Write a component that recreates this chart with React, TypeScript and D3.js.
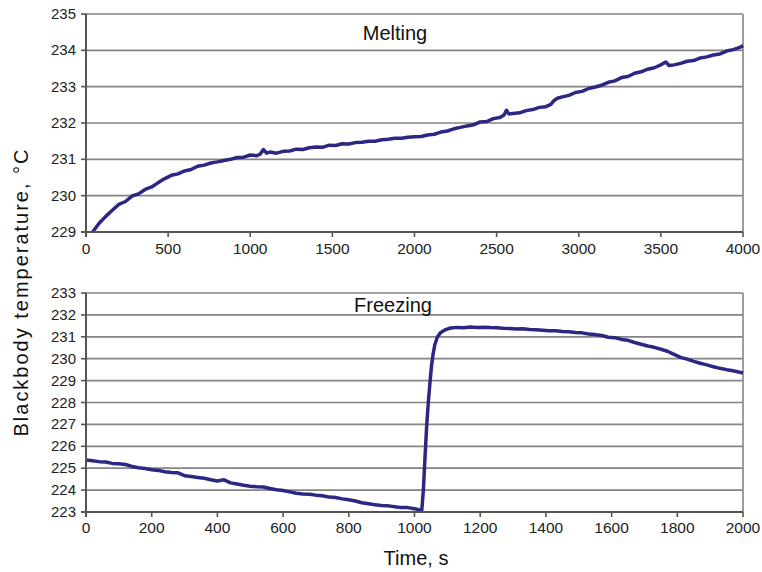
import React from "react";
import * as d3 from "d3";

const meltTime = [40, 80, 120, 160, 200, 240, 280, 320, 360, 400, 440, 480, 520, 560, 600, 640, 680, 720, 760, 800, 840, 880, 920, 960, 1000, 1040, 1060, 1080, 1100, 1120, 1160, 1200, 1240, 1280, 1320, 1360, 1400, 1440, 1480, 1520, 1560, 1600, 1640, 1680, 1720, 1760, 1800, 1840, 1880, 1920, 1960, 2000, 2040, 2080, 2120, 2160, 2200, 2240, 2280, 2320, 2360, 2400, 2440, 2480, 2520, 2545, 2560, 2575, 2600, 2640, 2680, 2720, 2760, 2800, 2830, 2850, 2870, 2900, 2940, 2980, 3020, 3060, 3100, 3140, 3180, 3220, 3260, 3300, 3340, 3380, 3420, 3460, 3500, 3530, 3550, 3580, 3620, 3660, 3700, 3740, 3780, 3820, 3860, 3900, 3940, 3980, 4000];
const meltTemp = [229.0, 229.24, 229.43, 229.6, 229.76, 229.84, 229.99, 230.05, 230.17, 230.24, 230.36, 230.47, 230.56, 230.6, 230.68, 230.72, 230.81, 230.84, 230.9, 230.93, 230.97, 231.0, 231.05, 231.06, 231.12, 231.1, 231.14, 231.27, 231.17, 231.2, 231.17, 231.22, 231.23, 231.28, 231.27, 231.32, 231.34, 231.33, 231.39, 231.38, 231.43, 231.42, 231.46, 231.47, 231.5, 231.5, 231.54, 231.55, 231.58, 231.58, 231.61, 231.62, 231.63, 231.67, 231.69, 231.75, 231.78, 231.84, 231.88, 231.92, 231.95, 232.03, 232.04, 232.12, 232.15, 232.22, 232.35, 232.25, 232.26, 232.28, 232.34, 232.37, 232.43, 232.45, 232.51, 232.62, 232.68, 232.72, 232.76, 232.84, 232.87, 232.95, 232.99, 233.04, 233.12, 233.16, 233.25, 233.28, 233.37, 233.41, 233.48, 233.52, 233.6, 233.68, 233.58, 233.6, 233.64, 233.7, 233.72, 233.79, 233.82, 233.87, 233.9, 233.98, 234.02, 234.08, 234.13];

const freezeTime = [0, 20, 40, 60, 80, 100, 120, 140, 160, 180, 200, 220, 240, 260, 280, 300, 320, 340, 360, 380, 400, 420, 440, 460, 480, 500, 520, 540, 560, 580, 600, 620, 640, 660, 680, 700, 720, 740, 760, 780, 800, 820, 840, 860, 880, 900, 920, 940, 960, 980, 1000, 1010, 1022, 1027, 1032, 1037, 1042, 1047, 1052, 1057, 1062, 1070, 1080, 1095, 1110, 1130, 1150, 1170, 1190, 1210, 1230, 1250, 1270, 1290, 1310, 1330, 1350, 1370, 1390, 1410, 1430, 1450, 1470, 1490, 1510, 1530, 1550, 1570, 1590, 1610, 1630, 1650, 1670, 1690, 1710, 1730, 1750, 1770, 1790, 1810, 1830, 1850, 1870, 1890, 1910, 1930, 1950, 1970, 1990, 2000];
const freezeTemp = [225.38, 225.34, 225.3, 225.28, 225.22, 225.2, 225.17, 225.08, 225.02, 224.99, 224.93, 224.9, 224.84, 224.8, 224.79, 224.66, 224.62, 224.58, 224.54, 224.47, 224.42, 224.47, 224.33, 224.28, 224.22, 224.18, 224.15, 224.14, 224.07, 224.02, 223.98, 223.92, 223.86, 223.82, 223.81, 223.77, 223.74, 223.68, 223.66, 223.6, 223.56, 223.5, 223.42, 223.38, 223.33, 223.3, 223.28, 223.24, 223.2, 223.2, 223.15, 223.12, 223.05, 224.0, 225.5, 226.9, 228.0, 228.9, 229.7, 230.25, 230.65, 231.0, 231.2, 231.33, 231.4, 231.43, 231.41, 231.45, 231.43, 231.44, 231.42, 231.41, 231.39, 231.38, 231.36, 231.37, 231.33, 231.32, 231.3, 231.28, 231.28, 231.24, 231.23, 231.2, 231.18, 231.13, 231.1, 231.06, 230.98, 230.96, 230.88, 230.84, 230.74, 230.66, 230.58, 230.52, 230.43, 230.34, 230.2, 230.06, 229.98, 229.88, 229.79, 229.72, 229.63, 229.56, 229.5, 229.45, 229.38, 229.35];

const meltXTicks = [0, 500, 1000, 1500, 2000, 2500, 3000, 3500, 4000];
const meltYTicks = [229, 230, 231, 232, 233, 234, 235];
const freezeXTicks = [0, 200, 400, 600, 800, 1000, 1200, 1400, 1600, 1800, 2000];
const freezeYTicks = [223, 224, 225, 226, 227, 228, 229, 230, 231, 232, 233];

const panelTitles = ["Melting", "Freezing"];
const yTitle = "Blackbody  temperature, °C";
const xTitle = "Time, s";

const FONT = "'Liberation Sans', Arial, sans-serif";
const LINE = "#2b2783";
const GRID = "#858585";
const AXIS = "#555555";

type PanelProps = {
  times: number[];
  temps: number[];
  xTicks: number[];
  yTicks: number[];
  top: number;
  bottom: number;
  title: string;
  titleX: number;
  titleY: number;
  labelY: number;
};

function Panel({ times, temps, xTicks, yTicks, top, bottom, title, titleX, titleY, labelY }: PanelProps) {
  const left = 86;
  const right = 743;
  const x = d3.scaleLinear().domain([xTicks[0], xTicks[xTicks.length - 1]]).range([left, right]);
  const y = d3.scaleLinear().domain([yTicks[0], yTicks[yTicks.length - 1]]).range([bottom, top]);
  const pts: [number, number][] = times.map((t, i) => [t, temps[i]]);
  const line = d3
    .line<[number, number]>()
    .x((d) => x(d[0]))
    .y((d) => y(d[1]))
    .curve(d3.curveLinear);
  const clipId = "clip-" + title;
  return (
    <g>
      <defs>
        <clipPath id={clipId}>
          <rect x={left} y={top - 2} width={right - left + 2} height={bottom - top + 2} />
        </clipPath>
      </defs>
      {yTicks.slice(1).map((v) => (
        <line key={"g" + v} x1={left} x2={right} y1={y(v)} y2={y(v)} stroke={GRID} strokeWidth={1.7} />
      ))}
      <line x1={right} x2={right} y1={top} y2={bottom} stroke={GRID} strokeWidth={1.6} />
      <path d={line(pts) || ""} fill="none" stroke={LINE} strokeWidth={3.5} strokeLinejoin="round" clipPath={`url(#${clipId})`} />
      <line x1={left} x2={left} y1={top} y2={bottom + 5} stroke={AXIS} strokeWidth={2} />
      <line x1={left - 5} x2={right} y1={bottom} y2={bottom} stroke={AXIS} strokeWidth={2} />
      {yTicks.map((v) => (
        <g key={"yt" + v}>
          <line x1={left - 5} x2={left} y1={y(v)} y2={y(v)} stroke={AXIS} strokeWidth={1.6} />
          <text x={left - 10} y={y(v) + 5} textAnchor="end" fontSize={15} fontFamily={FONT} fill="#222">
            {v}
          </text>
        </g>
      ))}
      {xTicks.map((v) => (
        <g key={"xt" + v}>
          <line x1={x(v)} x2={x(v)} y1={bottom} y2={bottom + 5} stroke={AXIS} strokeWidth={1.6} />
          <text x={x(v)} y={labelY} textAnchor="middle" fontSize={15.5} fontFamily={FONT} fill="#222">
            {v}
          </text>
        </g>
      ))}
      <text x={titleX} y={titleY} textAnchor="middle" fontSize={20} fontFamily={FONT} fill="#111">
        {title}
      </text>
    </g>
  );
}

export default function App() {
  return (
    <svg width={762} height={572} style={{ position: "absolute", left: 0, top: 0, background: "#fff" }}>
      <rect x={0} y={0} width={762} height={572} fill="#fff" />
      <Panel
        times={meltTime}
        temps={meltTemp}
        xTicks={meltXTicks}
        yTicks={meltYTicks}
        top={14}
        bottom={232}
        title={panelTitles[0]}
        titleX={395}
        titleY={40}
        labelY={254}
      />
      <Panel
        times={freezeTime}
        temps={freezeTemp}
        xTicks={freezeXTicks}
        yTicks={freezeYTicks}
        top={293}
        bottom={512}
        title={panelTitles[1]}
        titleX={393}
        titleY={312}
        labelY={533}
      />
      <text
        transform="translate(28,293) rotate(-90)"
        textAnchor="middle"
        fontSize={20}
        fontFamily={FONT}
        fill="#111"
        textLength={287}
        lengthAdjust="spacing"
      >
        {yTitle}
      </text>
      <text x={416} y={565} textAnchor="middle" fontSize={20} fontFamily={FONT} fill="#111">
        {xTitle}
      </text>
    </svg>
  );
}
